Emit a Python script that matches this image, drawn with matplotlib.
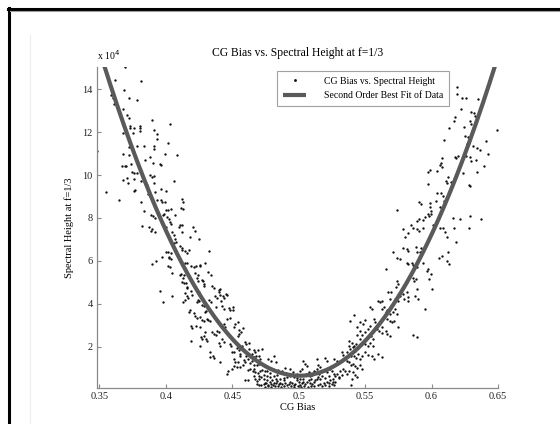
import numpy as np
import matplotlib
matplotlib.use("Agg")
import matplotlib.pyplot as plt
from matplotlib.lines import Line2D

plt.rcParams["font.family"] = ["Liberation Serif", "DejaVu Serif"]

# CG bias vs spectral height (x 1e4)
points = [
    # upper left branch
    (0.3695, 15.05), (0.3482, 11.1), (0.3548, 9.19), (0.362, 14.43), (0.359, 13.72), (0.360, 13.6),
    (0.3613, 13.3), (0.3683, 13.97), (0.3726, 13.6), (0.3786, 13.5), (0.3811, 14.39), (0.3675, 13.1),
    (0.3726, 12.65), (0.3728, 12.3), (0.3733, 12.2), (0.3758, 12.17), (0.3753, 11.95), (0.3803, 12.28),
    (0.3805, 12.17), (0.3805, 12.03), (0.3898, 12.57), (0.3908, 12.1), (0.393, 11.9), (0.3933, 11.69),
    (0.3913, 11.33), (0.4031, 12.37), (0.4019, 11.5), (0.3994, 10.98), (0.4086, 10.95), (0.3675, 11.94),
    (0.3678, 11.0), (0.3726, 11.3), (0.372, 10.95), (0.367, 10.43), (0.369, 10.43), (0.3703, 10.4),
    (0.3736, 10.53), (0.3748, 10.12), (0.3758, 10.1), (0.3786, 10.08), (0.3783, 11.33), (0.3833, 11.33),
    (0.384, 10.68), (0.3878, 10.82), (0.3913, 11.2), (0.3906, 10.54), (0.3954, 10.51), (0.3964, 10.48),
    (0.3913, 9.95), (0.388, 10.0), (0.3896, 9.89), (0.3908, 9.63), (0.3705, 9.86), (0.3675, 9.77),
    (0.3716, 9.61), (0.3761, 9.83), (0.3811, 9.74), (0.3761, 9.27), (0.3768, 9.3), (0.365, 8.85),
    (0.3816, 8.73), (0.3833, 8.34), (0.3933, 8.84), (0.3964, 8.82), (0.3974, 8.76), (0.3994, 8.73),
    (0.4001, 8.39), (0.4019, 8.36), (0.4041, 8.42), (0.4061, 9.74), (0.4001, 9.27), (0.3964, 9.33),
    (0.4122, 8.9), (0.4127, 8.73), (0.4116, 8.47), (0.4131, 8.4), (0.3705, 12.8), (0.3855, 9.55),
    (0.392, 9.2), (0.3868, 9.1),
    # upper right branch
    (0.619, 14.1), (0.619, 13.77), (0.6232, 13.58), (0.626, 13.6), (0.635, 13.55), (0.622, 13.1),
    (0.630, 12.96), (0.632, 12.9), (0.6325, 12.75), (0.629, 12.5), (0.6297, 12.4), (0.6177, 12.7),
    (0.617, 12.5), (0.6132, 12.2), (0.6242, 12.25), (0.6495, 12.08), (0.6252, 11.83), (0.6277, 11.78),
    (0.6408, 11.6), (0.6097, 11.64), (0.627, 11.44), (0.631, 11.33), (0.6345, 11.25), (0.6365, 11.15),
    (0.6427, 10.98), (0.6178, 10.85), (0.6185, 10.8), (0.620, 10.9), (0.626, 10.9), (0.629, 10.82),
    (0.630, 10.64), (0.6335, 10.7), (0.608, 10.8), (0.607, 10.56), (0.6062, 10.47), (0.6082, 10.36),
    (0.5986, 10.25), (0.597, 10.12), (0.6039, 10.2), (0.634, 10.15), (0.6395, 10.4), (0.6127, 9.89),
    (0.6107, 9.74), (0.6117, 9.63), (0.6144, 9.66), (0.6234, 10.09), (0.628, 9.55), (0.629, 9.5),
    (0.597, 9.6), (0.6084, 9.04), (0.604, 9.18), (0.6074, 9.16), (0.6032, 8.8), (0.5986, 8.7),
    (0.5904, 8.76), (0.5919, 8.65), (0.5989, 8.5), (0.5994, 8.3), (0.6064, 8.5), (0.5738, 8.37),
    (0.609, 8.8),
    # lower left branch
    (0.3821, 7.6), (0.3873, 7.57), (0.3896, 7.5), (0.3889, 7.38), (0.3916, 7.36), (0.389, 8.15),
    (0.3906, 8.09), (0.392, 8.0), (0.3946, 8.09), (0.3976, 8.12), (0.3989, 8.17), (0.4009, 8.06),
    (0.4021, 7.95), (0.4071, 8.14), (0.4029, 7.83), (0.4039, 7.7), (0.3999, 7.58), (0.4046, 7.35),
    (0.4061, 7.2), (0.4096, 7.57), (0.4109, 7.66), (0.4122, 7.69), (0.4204, 7.57), (0.4217, 7.4),
    (0.4184, 7.09), (0.4252, 7.02), (0.4122, 7.32), (0.4071, 7.0), (0.4076, 6.9), (0.406, 6.82),
    (0.4107, 6.7), (0.412, 6.62), (0.412, 6.5), (0.4147, 6.45), (0.416, 6.36), (0.4177, 6.5),
    (0.3999, 6.42), (0.4019, 6.39), (0.4036, 6.36), (0.4039, 6.08), (0.4021, 6.14), (0.4026, 6.16),
    (0.3969, 6.17), (0.3893, 5.85), (0.3924, 5.98), (0.4019, 5.77), (0.4029, 5.72), (0.4049, 5.43),
    (0.4117, 5.38), (0.4109, 5.32), (0.4134, 5.35), (0.4127, 5.22), (0.4119, 4.99), (0.4137, 4.95),
    (0.4149, 4.96), (0.4147, 5.92), (0.416, 5.88), (0.4192, 5.74), (0.4209, 5.69), (0.4227, 5.77),
    (0.4254, 5.81), (0.4259, 5.77), (0.4217, 5.43), (0.4244, 5.33), (0.4232, 5.22), (0.4239, 5.07),
    (0.4269, 5.09), (0.4277, 5.04), (0.432, 5.46), (0.4342, 5.35), (0.4322, 6.47), (0.4292, 5.92),
    (0.4284, 4.91), (0.4289, 4.81), (0.4159, 4.76), (0.4162, 4.73), (0.4187, 4.59), (0.4194, 4.4),
    (0.4142, 4.5), (0.4159, 4.37), (0.4144, 4.17), (0.4132, 4.09), (0.4164, 4.25), (0.3954, 4.57),
    (0.3976, 4.06), (0.4044, 4.34), (0.4249, 4.53), (0.4259, 4.4), (0.4244, 4.19), (0.4234, 4.09),
    (0.4252, 4.11), (0.4272, 3.94), (0.4289, 3.88), (0.4302, 3.66), (0.4292, 3.6), (0.4325, 4.16),
    (0.4342, 4.06), (0.4372, 4.34), (0.4385, 4.25), (0.44, 4.53), (0.441, 4.42), (0.435, 4.84),
    (0.436, 4.71), (0.4402, 4.65), (0.441, 4.68), (0.4432, 4.34), (0.4437, 4.25), (0.4455, 4.47),
    (0.446, 4.39), (0.4412, 4.11), (0.438, 3.83), (0.4422, 3.89), (0.4435, 3.75), (0.4477, 3.8),
    (0.4485, 3.71), (0.4508, 3.83), (0.4503, 3.72), (0.4184, 3.7), (0.4174, 3.6), (0.4209, 3.55),
    (0.4217, 3.41), (0.4234, 3.35), (0.4259, 3.36), (0.4274, 3.26), (0.4289, 3.21), (0.4309, 3.29),
    (0.4317, 3.24), (0.4335, 3.21), (0.4192, 2.98), (0.4197, 2.85), (0.4227, 2.95), (0.4259, 2.9),
    (0.4292, 2.67), (0.4289, 2.51), (0.4304, 2.36), (0.4309, 2.26), (0.4267, 2.43), (0.4269, 2.36),
    (0.4189, 2.28), (0.4259, 2.05), (0.4347, 2.67), (0.436, 2.59), (0.4377, 2.56), (0.4387, 2.73),
    (0.4402, 2.67), (0.4435, 3.05), (0.4442, 2.93), (0.446, 3.27), (0.4485, 3.35), (0.4523, 3.05),
    (0.454, 3.13), (0.451, 2.9), (0.455, 2.79), (0.4548, 2.57), (0.454, 2.51), (0.4565, 2.67),
    (0.4578, 2.87), (0.4397, 2.16), (0.441, 2.05), (0.4425, 2.36), (0.4435, 2.23), (0.448, 2.12),
    (0.4492, 2.05), (0.4335, 1.74), (0.4332, 1.5), (0.4352, 1.55), (0.4362, 1.47), (0.441, 1.27),
    (0.45, 1.77), (0.451, 1.74), (0.4535, 1.94), (0.455, 1.86), (0.457, 2.05), (0.4578, 1.84),
    (0.4603, 2.11), (0.4625, 2.16), (0.4598, 2.23), (0.4623, 1.89), (0.4555, 1.66), (0.456, 1.55),
    (0.4598, 1.74), (0.4605, 1.58), (0.451, 1.43), (0.4523, 1.27), (0.454, 1.3), (0.446, 0.73),
    (0.447, 0.84), (0.4498, 0.96), (0.451, 1.09), (0.4535, 1.04), (0.456, 1.07), (0.4578, 1.12),
    (0.4585, 1.38), (0.4598, 1.27), (0.462, 1.43), (0.4633, 1.24), (0.4648, 1.32), (0.4648, 1.66),
    (0.4663, 1.52), (0.468, 1.58), (0.466, 1.86), (0.4673, 1.77), (0.4693, 1.86), (0.4723, 1.88),
    (0.47, 1.58), (0.471, 1.43), (0.466, 1.15), (0.4685, 1.12), (0.4698, 1.2), (0.4615, 0.93),
    (0.4635, 0.96), (0.4653, 0.84), (0.4665, 0.96), (0.4598, 0.42), (0.4615, 0.42), (0.477, 1.43),
    (0.4793, 1.35), (0.4826, 1.27), (0.4813, 1.58),
    # bottom, left of the vertex
    (0.4673, 0.5), (0.4685, 0.41), (0.4705, 0.47), (0.4715, 0.58), (0.4736, 0.5), (0.4748, 0.31),
    (0.4761, 0.42), (0.4781, 0.34), (0.4798, 0.42), (0.4811, 0.31), (0.4826, 0.47), (0.4836, 0.38),
    (0.4856, 0.5), (0.4688, 0.26), (0.4703, 0.22), (0.4718, 0.19), (0.4736, 0.26), (0.4756, 0.29),
    (0.4771, 0.19), (0.4791, 0.26), (0.4673, 0.81), (0.4691, 0.76), (0.4711, 0.87), (0.4726, 0.93),
    (0.4748, 0.88), (0.4761, 0.84), (0.4786, 0.78), (0.4806, 0.96), (0.4826, 0.87), (0.4848, 0.93),
    (0.466, 0.65), (0.4698, 0.65), (0.4736, 0.68), (0.4761, 0.62), (0.4781, 0.57), (0.4811, 0.65),
    (0.4836, 0.68), (0.4745, 0.12), (0.4768, 0.15), (0.4795, 0.12), (0.4818, 0.18), (0.4842, 0.14),
    (0.4852, 0.24), (0.4805, 0.22), (0.4828, 0.28),
    # lower right branch
    (0.5889, 7.86), (0.5906, 7.94), (0.5939, 7.91), (0.5954, 8.06), (0.5974, 8.17), (0.5984, 8.09),
    (0.5994, 8.17), (0.5843, 7.66), (0.5859, 7.55), (0.5889, 7.47), (0.5909, 7.4), (0.5934, 7.55),
    (0.5788, 7.47), (0.5803, 7.09), (0.5826, 7.29), (0.6014, 7.67), (0.6031, 7.78), (0.6061, 7.55),
    (0.6084, 7.52), (0.6159, 8.0), (0.6169, 7.55), (0.6217, 7.94), (0.629, 8.09), (0.6282, 7.55),
    (0.637, 7.94), (0.6114, 7.09), (0.6104, 7.35), (0.6182, 6.9), (0.5881, 6.65), (0.5894, 6.43),
    (0.5914, 6.39), (0.5924, 6.62), (0.5813, 6.54), (0.5826, 6.47), (0.5788, 6.59), (0.5713, 6.39),
    (0.5743, 6.12), (0.5763, 6.08), (0.5813, 5.92), (0.5823, 5.84), (0.585, 5.92), (0.5863, 5.8),
    (0.5878, 5.74), (0.5894, 5.69), (0.5939, 5.92), (0.5964, 5.53), (0.5976, 5.61), (0.6059, 6.12),
    (0.6082, 6.23), (0.6114, 5.97), (0.6127, 6.43), (0.6134, 5.84), (0.5996, 5.38), (0.5979, 5.15),
    (0.5881, 5.15), (0.5871, 5.07), (0.5843, 5.38), (0.5859, 5.22), (0.5889, 4.68), (0.6004, 4.68),
    (0.5658, 5.61), (0.567, 4.56), (0.5696, 4.53), (0.5688, 4.22), (0.5738, 5.04), (0.5751, 4.91),
    (0.5733, 4.76), (0.5776, 4.68), (0.5796, 4.76), (0.5818, 4.99), (0.5763, 4.37), (0.5788, 4.45),
    (0.5813, 4.53), (0.5826, 4.29), (0.5728, 4.22), (0.5751, 4.14), (0.5793, 4.22), (0.5823, 4.14),
    (0.5876, 4.37), (0.5896, 4.22), (0.5951, 3.75), (0.5538, 3.83), (0.555, 3.75), (0.56, 4.14),
    (0.5613, 4.06), (0.563, 4.14), (0.5625, 3.75), (0.5643, 3.83), (0.5658, 3.6), (0.5668, 3.72),
    (0.5688, 3.52), (0.5708, 3.63), (0.5726, 3.75), (0.5738, 3.52), (0.5663, 3.29), (0.5688, 3.21),
    (0.57, 3.13), (0.5718, 3.21), (0.5613, 3.13), (0.5628, 2.9), (0.5563, 3.29), (0.5578, 3.13),
    (0.5538, 2.98), (0.5588, 2.82), (0.5608, 2.74), (0.5628, 2.64), (0.5658, 2.74), (0.5668, 2.59),
    (0.5688, 2.51), (0.5748, 2.9), (0.5864, 2.54), (0.5889, 2.43), (0.5417, 3.47), (0.5387, 3.18),
    (0.5463, 3.16), (0.5483, 3.05), (0.55, 3.26), (0.5438, 2.9), (0.5463, 2.74), (0.5442, 2.54),
    (0.5458, 2.36), (0.5475, 2.54), (0.55, 2.67), (0.5518, 2.82), (0.5533, 2.59), (0.5545, 2.48),
    (0.5558, 2.36), (0.55, 2.12), (0.5518, 2.05), (0.5538, 2.17), (0.5558, 2.02), (0.55, 1.74),
    (0.5518, 1.61), (0.555, 1.58), (0.557, 1.43), (0.56, 1.66), (0.5625, 1.5), (0.5382, 2.28),
    (0.54, 2.17), (0.5417, 2.05), (0.5432, 2.11), (0.5375, 2.02), (0.5387, 1.89), (0.5407, 1.97),
    (0.5425, 1.81), (0.5362, 1.74), (0.5387, 1.66), (0.5395, 1.55), (0.5417, 1.58), (0.5432, 1.47),
    (0.545, 1.66), (0.5463, 1.43), (0.5478, 1.55), (0.5325, 1.74), (0.5337, 1.61), (0.535, 1.43),
    (0.5362, 1.35), (0.5262, 1.43), (0.5287, 1.35), (0.5312, 1.27), (0.52, 1.47), (0.5212, 1.35),
    (0.5375, 1.27), (0.5392, 1.15), (0.5407, 1.19), (0.5425, 1.09), (0.5442, 0.99), (0.5458, 1.15),
    (0.5475, 0.96), (0.5407, 0.81), (0.5425, 0.68), (0.5438, 0.57), (0.5402, 0.47), (0.5397, 0.23),
    (0.5337, 0.96), (0.535, 0.84), (0.5362, 0.73), (0.5382, 0.88), (0.5312, 0.84), (0.5325, 0.68),
    (0.5307, 0.57), (0.5287, 0.73), (0.53, 0.53), (0.5237, 0.96), (0.525, 0.84), (0.5262, 0.73),
    (0.5275, 0.62), (0.5257, 0.5), (0.5187, 0.88), (0.5212, 0.81), (0.5225, 0.65), (0.52, 0.54),
    (0.5237, 0.42), (0.525, 0.26), (0.5262, 0.19), (0.5257, 0.37), (0.5275, 0.34), (0.5212, 0.34),
    (0.5187, 0.31), (0.5162, 0.26), (0.5149, 1.12), (0.5162, 1.04), (0.5137, 0.96), (0.5112, 0.88),
    (0.5124, 0.81), (0.51, 0.68), (0.5087, 0.62), (0.5074, 0.81), (0.5031, 1.32), (0.5049, 1.19),
    (0.5066, 1.09), (0.5024, 0.96), (0.4899, 1.01), (0.4936, 0.96), (0.4874, 0.88), (0.4966, 0.6),
    (0.4986, 0.53), (0.5011, 0.5), (0.5036, 0.47), (0.4936, 0.65), (0.4911, 0.6), (0.4886, 0.54),
    (0.5137, 1.43),
    # bottom, around the vertex
    (0.5149, 0.57), (0.5162, 0.5), (0.5137, 0.47), (0.5124, 0.42), (0.5112, 0.34), (0.5099, 0.26),
    (0.5087, 0.31), (0.5074, 0.42), (0.5061, 0.34), (0.5049, 0.26), (0.5036, 0.37), (0.5024, 0.31),
    (0.5011, 0.22), (0.4999, 0.34), (0.4986, 0.42), (0.4974, 0.26), (0.4961, 0.19), (0.4949, 0.31),
    (0.4936, 0.37), (0.4924, 0.26), (0.4911, 0.19), (0.4899, 0.31), (0.4886, 0.42), (0.4874, 0.26),
    (0.4861, 0.31), (0.4868, 0.12), (0.4893, 0.15), (0.4918, 0.07), (0.4943, 0.14), (0.4968, 0.11),
    (0.4993, 0.16), (0.5018, 0.12), (0.5043, 0.15), (0.5068, 0.13), (0.5093, 0.18), (0.5118, 0.14),
    (0.5143, 0.22), (0.5175, 0.16), (0.5198, 0.2), (0.5225, 0.15), (0.523, 0.3), (0.4905, 0.78),
    (0.4955, 0.82), (0.4985, 0.72), (0.5012, 0.85), (0.5058, 0.72), (0.5095, 0.5), (0.5155, 0.7),
    (0.5178, 0.62),
]
cg_bias = np.array([p[0] for p in points])
height_e4 = np.array([p[1] for p in points])

x_ticks = [0.35, 0.4, 0.45, 0.5, 0.55, 0.6, 0.65]
x_tick_labels = ["0.35", "0.4", "0.45", "0.5", "0.55", "0.6", "0.65"]
y_ticks = [2, 4, 6, 8, 10, 12, 14]

# second order fit of the data
coef = np.polyfit(cg_bias, height_e4, 2)
xf = np.linspace(cg_bias.min(), cg_bias.max(), 300)
yf = np.polyval(coef, xf)

fig = plt.figure(figsize=(5.6, 4.24), dpi=100)
fig.patch.set_facecolor("white")
ax = fig.add_axes([97 / 560, 1 - 388 / 424, 401 / 560, (388 - 66.7) / 424])

GRAY = "#8a8a8a"
ax.plot(cg_bias, height_e4, "o", ms=1.7, mew=0, color="#111111",
        label="CG Bias vs. Spectral Height", zorder=2)
ax.plot(xf, yf, color="#5a5a5a", lw=3.0, solid_capstyle="butt",
        label="Second Order Best Fit of Data", zorder=3)

ax.set_xlim(cg_bias.min(), cg_bias.max())
ax.set_ylim(height_e4.min(), height_e4.max())
ax.set_xticks(x_ticks)
ax.set_xticklabels(x_tick_labels)
ax.set_yticks(y_ticks)
ax.set_yticklabels([str(v) for v in y_ticks])

for s in ["top", "right"]:
    ax.spines[s].set_visible(False)
for s in ["left", "bottom"]:
    ax.spines[s].set_color(GRAY)
    ax.spines[s].set_linewidth(0.9)
ax.tick_params(direction="in", length=3, width=0.8, color=GRAY,
               labelsize=7.5, labelcolor="#222222", pad=3)

ax.set_title("CG Bias vs. Spectral Height at f=1/3", fontsize=8.4, pad=8)
ax.set_xlabel("CG Bias", fontsize=7.5, labelpad=1)
ax.set_ylabel("Spectral Height at f=1/3", fontsize=7.5, labelpad=6)
ax.text(0.0, 1.015, r"x 10$^4$", transform=ax.transAxes, fontsize=7,
        ha="left", va="bottom")

leg = ax.legend(loc="upper right", bbox_to_anchor=(0.878, 0.987), borderaxespad=0,
                fontsize=7, frameon=True, fancybox=False, handlelength=2.4,
                handletextpad=1.8, borderpad=0.6, labelspacing=0.55, markerscale=1.2)
leg.get_frame().set_edgecolor(GRAY)
leg.get_frame().set_linewidth(0.8)

# screenshot frame
fig.add_artist(Line2D([8 / 560, 1], [1 - 9 / 424] * 2, color="black", lw=2.2))
fig.add_artist(Line2D([9 / 560] * 2, [0, 1 - 8 / 424], color="black", lw=2.2))
fig.add_artist(Line2D([10 / 560, 1], [1 - 11 / 424] * 2, color="#a0a0a0", lw=0.8))
fig.add_artist(Line2D([30 / 560] * 2, [0, 1 - 35 / 424], color="#ececec", lw=0.8))

fig.savefig("out.png", dpi=100, facecolor="white")
